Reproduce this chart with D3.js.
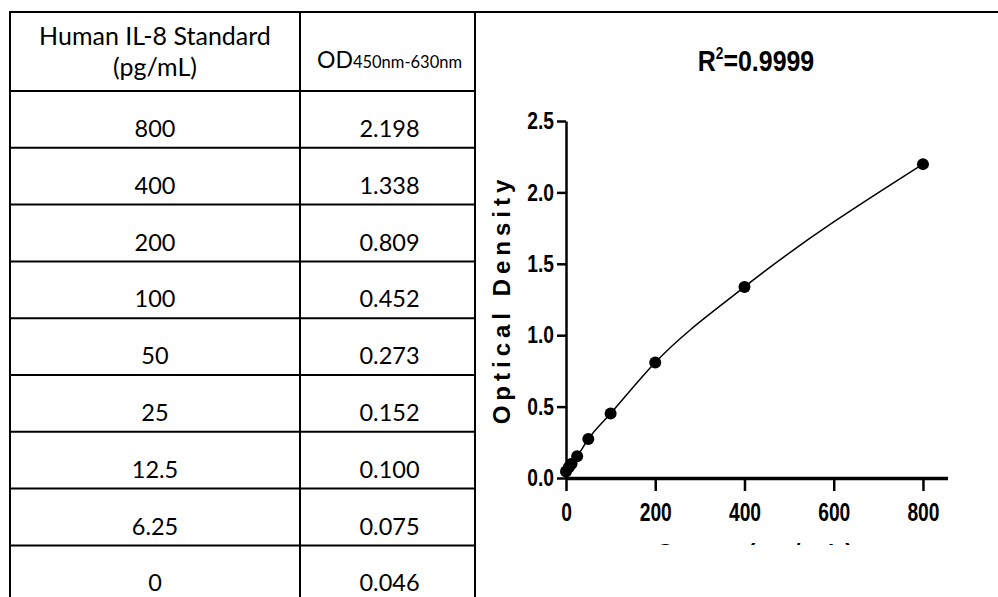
<!DOCTYPE html>
<html>
<head>
<meta charset="utf-8">
<script src="https://cdn.jsdelivr.net/npm/d3@7"></script>
<style>
  body { margin: 0; background: #fff; }
  svg { display: block; }
</style>
</head>
<body>
<script>
// table rows (as printed)
const standards = ["800", "400", "200", "100", "50", "25", "12.5", "6.25", "0"];
const odReadings = ["2.198", "1.338", "0.809", "0.452", "0.273", "0.152", "0.100", "0.075", "0.046"];
const headerConc = ["Human IL-8 Standard", "(pg/mL)"];
const headerOd = ["OD", "450nm-630nm"];

// chart axes
const xTicks = [0, 200, 400, 600, 800];
const yTicks = [0, 0.5, 1.0, 1.5, 2.0, 2.5];
const rSquared = "0.9999";

const width = 998, height = 597;

const svg = d3.select("body").append("svg")
  .attr("width", width)
  .attr("height", height);

// ---- table ----
const colX = [10, 300, 475];
const tableTop = 12, headerBottom = 91, rowH = 56.8;
const tableFont = "Lato, 'Open Sans', sans-serif";

const grid = svg.append("g").attr("stroke", "#000").attr("stroke-width", 2);
grid.append("line").attr("x1", 9).attr("x2", width).attr("y1", tableTop).attr("y2", tableTop);
grid.selectAll("line.v").data(colX).join("line").attr("class", "v")
  .attr("x1", d => d).attr("x2", d => d)
  .attr("y1", tableTop).attr("y2", height + 2);
grid.selectAll("line.h").data(standards).join("line").attr("class", "h")
  .attr("x1", colX[0]).attr("x2", colX[2])
  .attr("y1", (d, i) => headerBottom + i * rowH)
  .attr("y2", (d, i) => headerBottom + i * rowH);

const c1 = (colX[0] + colX[1]) / 2, c2 = (colX[1] + colX[2]) / 2 + 2;

svg.append("text").attr("x", c1).attr("y", 45)
  .attr("text-anchor", "middle").attr("font-family", tableFont).attr("font-size", 25)
  .text(headerConc[0]);
svg.append("text").attr("x", c1).attr("y", 76)
  .attr("text-anchor", "middle").attr("font-family", tableFont).attr("font-size", 25)
  .text(headerConc[1]);

const odHead = svg.append("text").attr("x", c2).attr("y", 68)
  .attr("text-anchor", "middle").attr("font-family", tableFont);
odHead.append("tspan").attr("font-size", 23).text(headerOd[0]);
odHead.append("tspan").attr("font-size", 16.5).text(headerOd[1]);

const rows = svg.append("g").attr("font-family", tableFont).attr("font-size", 23.5)
  .attr("text-anchor", "middle");
rows.selectAll("text.s").data(standards).join("text").attr("class", "s")
  .attr("x", c1).attr("y", (d, i) => headerBottom + i * rowH + 46).text(d => d);
rows.selectAll("text.o").data(odReadings).join("text").attr("class", "o")
  .attr("x", c2).attr("y", (d, i) => headerBottom + i * rowH + 46).text(d => d);

// ---- standard curve ----
const points = standards.map((s, i) => ({ conc: +s, od: +odReadings[i] }))
  .sort((a, b) => a.conc - b.conc);

const x = d3.scaleLinear().domain([0, 855]).range([566, 947.5]);
const y = d3.scaleLinear().domain([0, 2.5]).range([478, 121]);
const chartFont = "'Liberation Sans', Arial, sans-serif";
const squeeze = 0.8; // the source graph is horizontally compressed

svg.append("clipPath").attr("id", "plot-clip")
  .append("rect").attr("x", 476).attr("y", 13).attr("width", 522).attr("height", 532);
const chart = svg.append("g").attr("clip-path", "url(#plot-clip)");

const yAxis = chart.append("g")
  .attr("transform", `translate(${x(0)},0)`)
  .call(d3.axisLeft(y).tickValues(yTicks).tickFormat(d3.format(".1f"))
    .tickSize(9).tickPadding(3).tickSizeOuter(0));
const xAxis = chart.append("g")
  .attr("transform", `translate(0,${y(0)})`)
  .call(d3.axisBottom(x).tickValues(xTicks).tickFormat(d3.format("d"))
    .tickSize(13).tickPadding(12).tickSizeOuter(0));

yAxis.select(".domain").attr("stroke-width", 2.5);
yAxis.selectAll(".tick line").attr("stroke-width", 2.5);
xAxis.select(".domain").attr("stroke-width", 3.5);
xAxis.selectAll(".tick line").attr("stroke-width", 2.5);
chart.selectAll(".tick text")
  .attr("font-family", chartFont).attr("font-weight", "bold")
  .attr("fill", "#000");
yAxis.selectAll(".tick text").attr("font-size", 24)
  .attr("x", 0).attr("transform", `translate(-12,0) scale(${squeeze},1)`);
xAxis.selectAll(".tick text").attr("font-size", 26)
  .attr("transform", `scale(${squeeze - 0.06},1)`);

chart.append("path")
  .datum(points)
  .attr("fill", "none").attr("stroke", "#000").attr("stroke-width", 1.5)
  .attr("d", d3.line().x(d => x(d.conc)).y(d => y(d.od)).curve(d3.curveMonotoneX));

chart.append("g").selectAll("circle").data(points).join("circle")
  .attr("cx", d => x(d.conc)).attr("cy", d => y(d.od)).attr("r", 6)
  .attr("fill", "#000");

// title
const title = chart.append("text")
  .attr("transform", `translate(756,71) scale(0.86,1)`)
  .attr("text-anchor", "middle").attr("font-family", chartFont)
  .attr("font-weight", "bold").attr("font-size", 29);
title.append("tspan").text("R");
title.append("tspan").attr("font-size", 16).attr("dy", -12).text("2");
title.append("tspan").attr("dy", 12).text("=" + rSquared);

// axis titles
chart.append("text")
  .attr("transform", `translate(510,${(y(0) + y(2.5)) / 2}) rotate(-90)`)
  .attr("text-anchor", "middle").attr("font-family", chartFont)
  .attr("font-weight", "bold").attr("font-size", 24).attr("letter-spacing", 5)
  .text("Optical Density");

chart.append("text")
  .attr("x", (x(0) + x(855)) / 2).attr("y", 559)
  .attr("text-anchor", "middle").attr("font-family", chartFont)
  .attr("font-weight", "bold").attr("font-size", 22).attr("letter-spacing", 4)
  .text("Conc. (pg/mL)");
</script>
</body>
</html>
